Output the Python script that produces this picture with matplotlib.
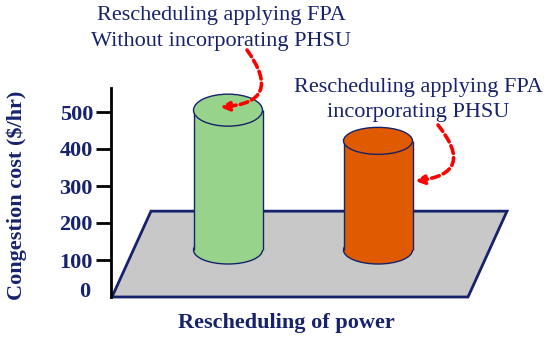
import matplotlib
matplotlib.use("Agg")
import matplotlib.pyplot as plt
from matplotlib.patches import Ellipse, Polygon

# data
categories = ["Without incorporating PHSU", "Incorporating PHSU"]
cost = [505, 422]
bar_colors = ["#98d38c", "#e05a00"]
yticks = [100, 200, 300, 400, 500]
notes = ["Rescheduling applying FPA\nWithout incorporating PHSU",
         "Rescheduling applying FPA\nincorporating PHSU"]

navy = "#16226b"
plt.rcParams["font.family"] = ["Liberation Serif", "DejaVu Serif"]

fig = plt.figure(figsize=(5.5, 3.4), dpi=100)
ax = fig.add_axes([0, 0, 1, 1])
# x in pixels, y in $/hr  (0 -> 297 px from top, 100 -> 37 px)
px = 0.37
ax.set_xlim(0, 550)
ax.set_ylim(-43 / px, 297 / px)

# floor
floor = Polygon([(112, 0), (151, 232), (507, 232), (468, 0)], closed=True,
                facecolor="#c8c8c8", edgecolor=navy, lw=2, zorder=1)
ax.add_patch(floor)

# cylinders
xc = [228, 378]
w = 69
base = 127
for i in range(len(cost)):
    eh = (32 if i == 0 else 27) / px
    bh = 28 / px
    ax.add_patch(Ellipse((xc[i], base), w, bh, facecolor=bar_colors[i],
                         edgecolor=navy, lw=1, zorder=2))
    ax.bar(xc[i], cost[i] - base, bottom=base, width=w, color=bar_colors[i],
           lw=0, zorder=3)
    ax.vlines([xc[i] - w / 2, xc[i] + w / 2], base, cost[i], color=navy,
              lw=1, zorder=4)
    ax.add_patch(Ellipse((xc[i], cost[i]), w, eh, facecolor=bar_colors[i],
                         edgecolor=navy, lw=1, zorder=4))

# axis
for s in ["top", "right", "bottom"]:
    ax.spines[s].set_visible(False)
ax.spines["left"].set_position(("data", 111))
ax.spines["left"].set_bounds(0, 565)
ax.spines["left"].set_linewidth(2)
ax.set_xticks([])
ax.set_yticks(yticks)
ax.set_yticklabels([str(t) for t in yticks], fontsize=16, fontweight="bold",
                   color=navy)
ax.tick_params(axis="y", length=11, width=2, pad=2, direction="out")
ax.text(85, 14, "0", ha="center", va="center", fontsize=16,
        fontweight="bold", color=navy)

fig.text(17 / 550, 1 - 195 / 340, "Congestion cost ($/hr)", rotation=90,
         ha="center", va="center", fontsize=16, fontweight="bold", color=navy)
fig.text(286 / 550, 1 - 323 / 340, "Rescheduling of power", ha="center",
         va="center", fontsize=16, fontweight="bold", color=navy)

# annotations
ax.text(221, (297 - 28.5) / px, notes[0], ha="center", va="center",
        fontsize=16, color=navy, linespacing=1.45)
ax.text(418, (297 - 100) / px, notes[1], ha="center", va="center",
        fontsize=16, color=navy, linespacing=1.45)

arrow = dict(arrowstyle="-|>", color="red", lw=2.6, ls=(0, (2.2, 1.2)),
             mutation_scale=13, shrinkA=0, shrinkB=0)
ax.annotate("", xy=(220, (297 - 107) / px), xytext=(247, (297 - 50) / px),
            arrowprops=dict(connectionstyle="arc3,rad=-0.9", **arrow),
            zorder=6)
ax.annotate("", xy=(415, (297 - 181) / px), xytext=(438, (297 - 125) / px),
            arrowprops=dict(connectionstyle="arc3,rad=-0.9", **arrow),
            zorder=6)

fig.savefig("out.png", dpi=100)
